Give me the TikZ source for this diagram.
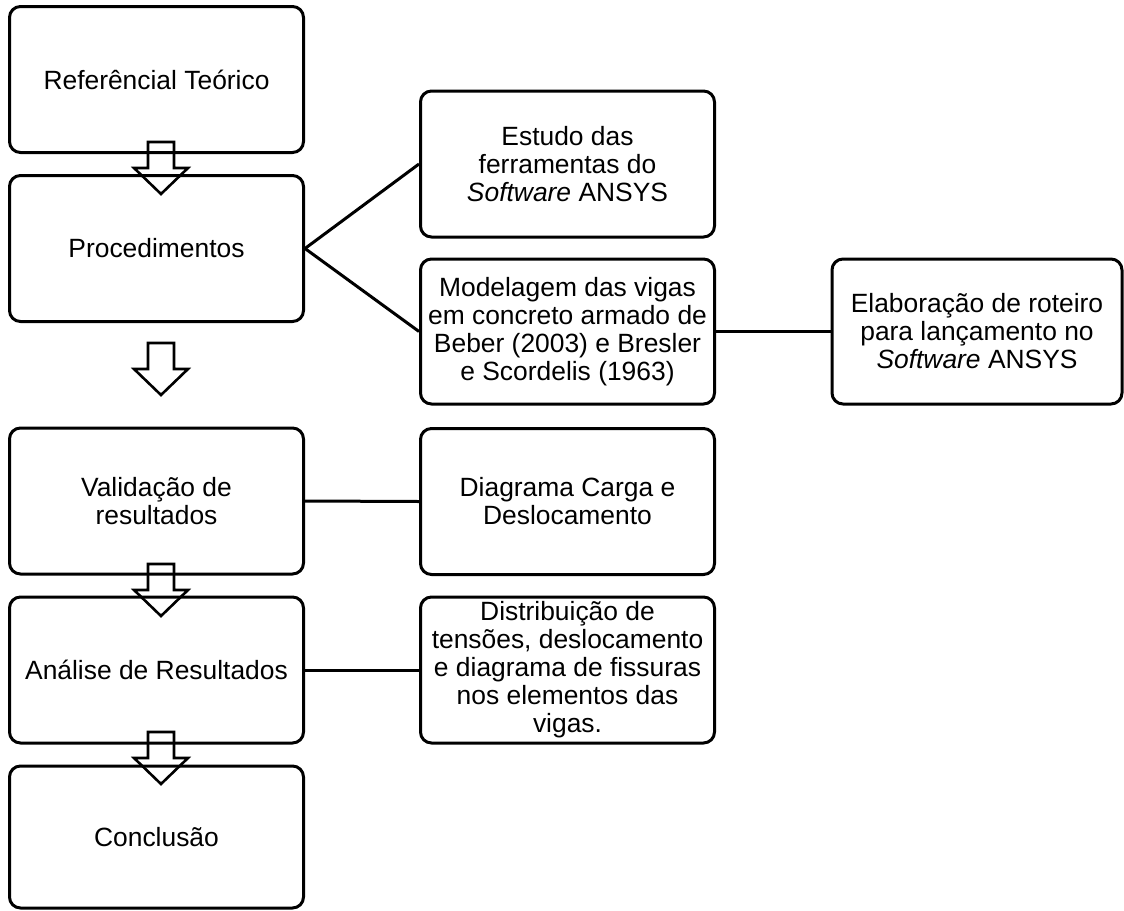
\documentclass[tikz,border=0pt]{standalone}
\usepackage{fontspec}
\setmainfont{Liberation Sans}
\tikzset{
    caixa/.style={draw, line width=1.5pt, rounded corners=5.5pt, align=center, inner sep=0pt,
        minimum width=147pt, minimum height=73pt, font=\fontsize{13.2}{14}\selectfont},
    ligacao/.style={line width=1.5pt},
    seta/.style={line width=1.3pt, line join=miter}
}
\begin{document}
\begin{tikzpicture}[x=0.5pt, y=-0.5pt]
    \useasboundingbox (0,0) rectangle (1124,910);
    \node[caixa] (ref) at (156.5,79.5) {Referêncial Teórico};
    \node[caixa] (proc) at (156.5,248.5) {Procedimentos};
    \node[caixa] (valid) at (156.5,501) {Validação de\\resultados};
    \node[caixa] (anal) at (156.5,670) {Análise de Resultados};
    \node[caixa, minimum height=71pt] (concl) at (156.5,837) {Conclusão};
    \node[caixa] (estudo) at (567.5,164) {Estudo das\\ferramentas do\\\textit{Software} ANSYS};
    \node[caixa, minimum height=72.5pt] (model) at (567.5,331.5) {Modelagem das vigas\\em concreto armado de\\Beber (2003) e Bresler\\e Scordelis (1963)};
    \node[caixa, minimum width=145pt, minimum height=72.5pt] (elab) at (977,331.5) {Elaboração de roteiro\\para lançamento no\\\textit{Software} ANSYS};
    \node[caixa] (diag) at (567.5,501.5) {Diagrama Carga e\\Deslocamento};
    \node[caixa] (distr) at (567.5,670) {Distribuição de\\tensões, deslocamento\\e diagrama de fissuras\\nos elementos das\\vigas.};
    \draw[ligacao] (proc.east) -- (estudo.west);
    \draw[ligacao] (proc.east) -- (model.west);
    \draw[ligacao] (model.east) -- (elab.west);
    \draw[ligacao] (valid.east) -- (diag.west);
    \draw[ligacao] (anal.east) -- (distr.west);
    \foreach \t in {142,343,564,732}
        \draw[seta] (148,\t) -- (174,\t) -- (174,\t+26) -- (188,\t+26) -- (161,\t+52)
            -- (134,\t+26) -- (148,\t+26) -- cycle;
\end{tikzpicture}
\end{document}
